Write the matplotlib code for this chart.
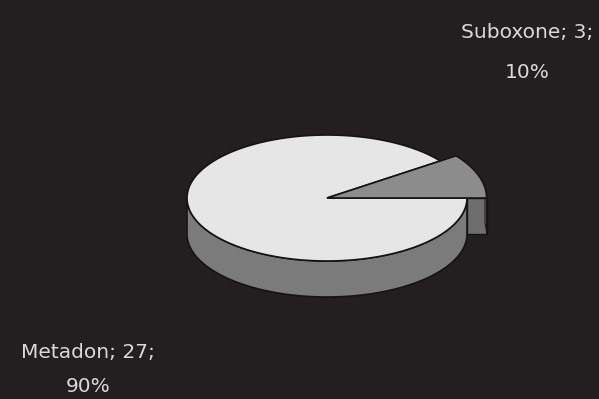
import numpy as np
import matplotlib.pyplot as plt
from matplotlib.patches import Polygon

categories = ['Metadon', 'Suboxone']
values = [27, 3]
label_pos = [(88, 353, 387), (527, 32, 73)]

W, H = 599, 399
fig = plt.figure(figsize=(W / 100, H / 100), dpi=100)
fig.patch.set_facecolor('#231f20')
ax = fig.add_axes([0, 0, 1, 1])
ax.set_xlim(0, W)
ax.set_ylim(H, 0)
ax.axis('off')

cx, cy, rx, ry, depth = 327, 198, 140, 63, 36
edge = '#161314'
top_cols = ['#e6e6e6', '#8c8c8c']
side_cols = ['#7b7b7b', '#6e6e6e']

total = sum(values)
fracs = [v / total for v in values]
sub_start, sub_end = 0.0, 360.0 * fracs[1]
met_start, met_end = sub_end, 360.0
sub_r = 1.14


def pt(theta_deg, r=1.0, dz=0.0):
    t = np.radians(theta_deg)
    return cx + r * rx * np.cos(t), cy - r * ry * np.sin(t) + dz


def arc(a0, a1, r=1.0, dz=0.0, n=120):
    th = np.linspace(a0, a1, n)
    return [pt(t, r, dz) for t in th]


face = [pt(0, 1.0), pt(0, sub_r), pt(0, sub_r, depth), pt(0, 1.0, depth)]
ax.add_patch(Polygon(face, closed=True, fc=side_cols[1], ec=edge, lw=1.0, zorder=1))
rim = arc(0, 8, sub_r) + arc(8, 0, sub_r, depth)
ax.add_patch(Polygon(rim, closed=True, fc='#8a8a8a', ec=edge, lw=0.8, zorder=1))

side = arc(180, 360) + arc(360, 180, 1.0, depth)
ax.add_patch(Polygon(side, closed=True, fc=side_cols[0], ec=edge, lw=1.2, zorder=2))

top = [(cx, cy)] + arc(met_start, met_end)
ax.add_patch(Polygon(top, closed=True, fc=top_cols[0], ec=edge, lw=1.2, zorder=3))

stop = [(cx, cy)] + arc(sub_start, sub_end, sub_r)
ax.add_patch(Polygon(stop, closed=True, fc=top_cols[1], ec=edge, lw=1.2, zorder=4))

fonts = ['Liberation Sans Narrow', 'DejaVu Sans Condensed', 'DejaVu Sans']
for name, v, f, (lx, ly1, ly2) in zip(categories, values, fracs, label_pos):
    ax.text(lx, ly1, f"{name}; {v};", ha='center', va='center',
            color='#d9d9d9', fontsize=14.5, family=fonts)
    ax.text(lx, ly2, f"{f*100:.0f}%", ha='center', va='center',
            color='#d9d9d9', fontsize=14.5, family=fonts)

fig.savefig('out.png', dpi=100, facecolor=fig.get_facecolor())
